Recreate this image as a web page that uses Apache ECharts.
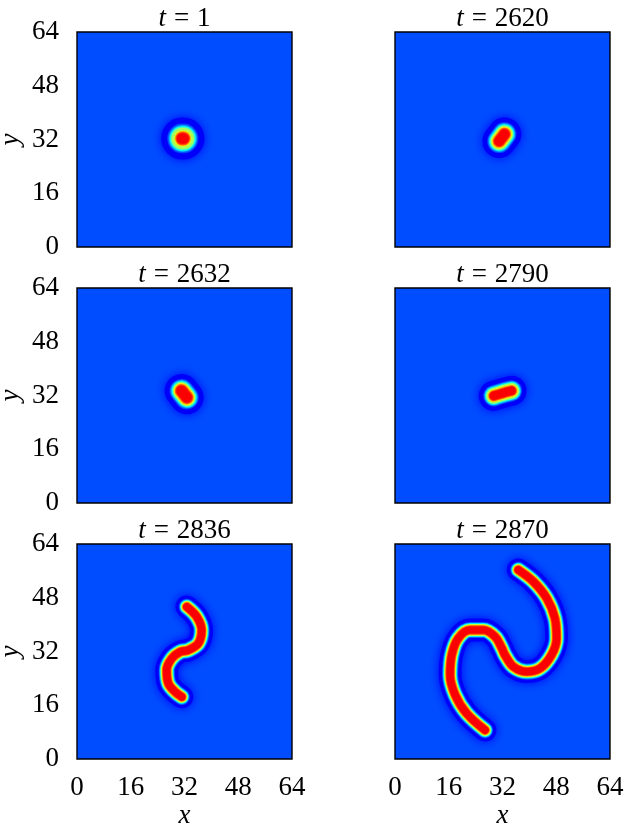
<!DOCTYPE html>
<html>
<head>
<meta charset="utf-8">
<title>Spiral wave formation</title>
<script src="https://cdn.jsdelivr.net/npm/echarts@6/dist/echarts.min.js"></script>
<style>
  html, body { margin: 0; padding: 0; background: #fff; }
  #chart { width: 630px; height: 825px; }
</style>
</head>
<body>
<div id="chart"></div>
<script>
// Snapshot times shown above each panel
const snapshotTimes = ['1', '2620', '2632', '2790', '2836', '2870'];
const axisTicks = [0, 16, 32, 48, 64];

// Ridge centre lines of the excited region, [x, y] in lattice units
const ridge1 = [[31.3, 32.3], [31.7, 32.3]];
const ridge2 = [[31.0, 31.5], [32.6, 33.6]];
const ridge3 = [[31.1, 33.4], [32.7, 31.4]];
const ridge4 = [[29.4, 31.9], [32.0, 32.7], [34.7, 33.4]];
const ridge5 = [[32.7, 45.3], [35.6, 42.4], [37.1, 38.4], [36.1, 34.4], [33.1, 32.4],
                [30.7, 31.9], [28.2, 29.9], [26.7, 26.5], [27.2, 22.5], [29.2, 20.0], [31.2, 18.5]];
const ridge6 = [[36.7, 56.3], [41.2, 52.8], [45.2, 47.8], [47.6, 41.9], [48.1, 35.9],
                [46.6, 31.0], [43.2, 27.0], [39.2, 26.0], [35.2, 27.5], [32.7, 31.0],
                [31.8, 33.0], [29.8, 36.4], [26.3, 38.4], [22.3, 38.4], [18.8, 35.9],
                [16.9, 31.0], [16.4, 25.0], [17.9, 19.1], [21.3, 13.6], [26.8, 8.6]];
const ridges = [ridge1, ridge2, ridge3, ridge4, ridge5, ridge6];

// Peak (darkest red) spots of the field
const peaks = [[[31.5, 32.3]], [[31.8, 32.6]], [[31.9, 32.4]], [[32.0, 32.7]], [[30.7, 31.9]], [[31.8, 32.4]]];

// ---- styling ----
const FONT = '"Liberation Serif", "DejaVu Serif", serif';
const FS = 27;
const PANEL = 215;
const LEFTS = [77, 395];
const TOPS = [32, 288, 544];
// stroke scale per panel: [outer skirt, inner core]
const widthScale = [[1.75, 1.4], [1.4, 1.3], [1.4, 1.35], [1.25, 1.1], [0.95, 0.95], [0.95, 0.95]];

// jet colour map
function jet(v) {
  const c = t => Math.round(255 * Math.max(0, Math.min(1, t)));
  return 'rgb(' + c(1.5 - Math.abs(4 * v - 3)) + ',' + c(1.5 - Math.abs(4 * v - 2)) + ',' + c(1.5 - Math.abs(4 * v - 1)) + ')';
}
const BG = jet(0.2);

// cross-section of a ridge: [field value, stroke width px, blur]
const profile = [
  [0.12, 24, 10], [0.20, 17, 0], [0.27, 15.5, 0], [0.34, 14.5, 0], [0.40, 13.6, 0],
  [0.47, 12.8, 0], [0.54, 12.1, 0], [0.61, 11.4, 0], [0.68, 10.7, 0],
  [0.75, 9.9, 0], [0.82, 9.0, 0], [0.88, 7.6, 0]
];

const grids = [], xAxes = [], yAxes = [], titles = [], series = [];
for (let p = 0; p < 6; p++) {
  const row = Math.floor(p / 2), col = p % 2;
  const left = LEFTS[col], top = TOPS[row];
  grids.push({
    left: left, top: top, width: PANEL, height: PANEL,
    containLabel: false, outerBoundsMode: 'none',
    show: true, backgroundColor: BG, borderColor: '#000', borderWidth: 1.4
  });
  xAxes.push({
    gridIndex: p, type: 'value', min: axisTicks[0], max: axisTicks[axisTicks.length - 1], interval: 16,
    axisLine: { show: false }, axisTick: { show: false }, splitLine: { show: false },
    axisLabel: { show: row === 2, margin: 15, fontFamily: FONT, fontSize: FS, color: '#000',
                 showMinLabel: true, showMaxLabel: true },
    name: row === 2 ? 'x' : '', nameLocation: 'middle', nameGap: 43,
    nameTextStyle: { fontFamily: FONT, fontStyle: 'italic', fontSize: FS, color: '#000' }
  });
  yAxes.push({
    gridIndex: p, type: 'value', min: axisTicks[0], max: axisTicks[axisTicks.length - 1], interval: 16,
    axisLine: { show: false }, axisTick: { show: false }, splitLine: { show: false },
    axisLabel: { show: col === 0, margin: 18, fontFamily: FONT, fontSize: FS, color: '#000',
                 showMinLabel: true, showMaxLabel: true },
    name: col === 0 ? 'y' : '', nameLocation: 'middle', nameGap: 53, nameRotate: 90,
    nameTextStyle: { fontFamily: FONT, fontStyle: 'italic', fontSize: FS, color: '#000' }
  });
  titles.push({
    text: '{it|t}{eq|=}' + snapshotTimes[p],
    left: left + PANEL / 2, top: top - 27, textAlign: 'center',
    padding: 0,
    textStyle: {
      fontFamily: FONT, fontSize: FS, fontWeight: 'normal', color: '#000',
      rich: {
        it: { fontFamily: FONT, fontSize: FS, fontStyle: 'italic', color: '#000' },
        eq: { fontFamily: FONT, fontSize: FS, color: '#000', padding: [0, 8, 0, 8] }
      }
    }
  });
  const [sOut, sIn] = widthScale[p];
  profile.forEach(([v, w, blur]) => {
    const color = jet(v);
    series.push({
      type: 'line', xAxisIndex: p, yAxisIndex: p,
      data: ridges[p], smooth: 0.35, symbol: 'none', silent: true, clip: true,
      lineStyle: { color: color, width: w * (v < 0.6 ? sOut : sIn), cap: 'round', join: 'round',
                   shadowBlur: blur, shadowColor: color }
    });
  });
  series.push({
    type: 'scatter', xAxisIndex: p, yAxisIndex: p, data: peaks[p],
    symbol: 'circle', symbolSize: 4.5 * sIn, silent: true,
    itemStyle: { color: jet(0.93), shadowBlur: 4, shadowColor: jet(0.93) }
  });
}

const chart = echarts.init(document.getElementById('chart'), null, { renderer: 'canvas' });
chart.setOption({
  animation: false,
  backgroundColor: '#fff',
  title: titles,
  grid: grids,
  xAxis: xAxes,
  yAxis: yAxes,
  series: series
});
</script>
</body>
</html>
